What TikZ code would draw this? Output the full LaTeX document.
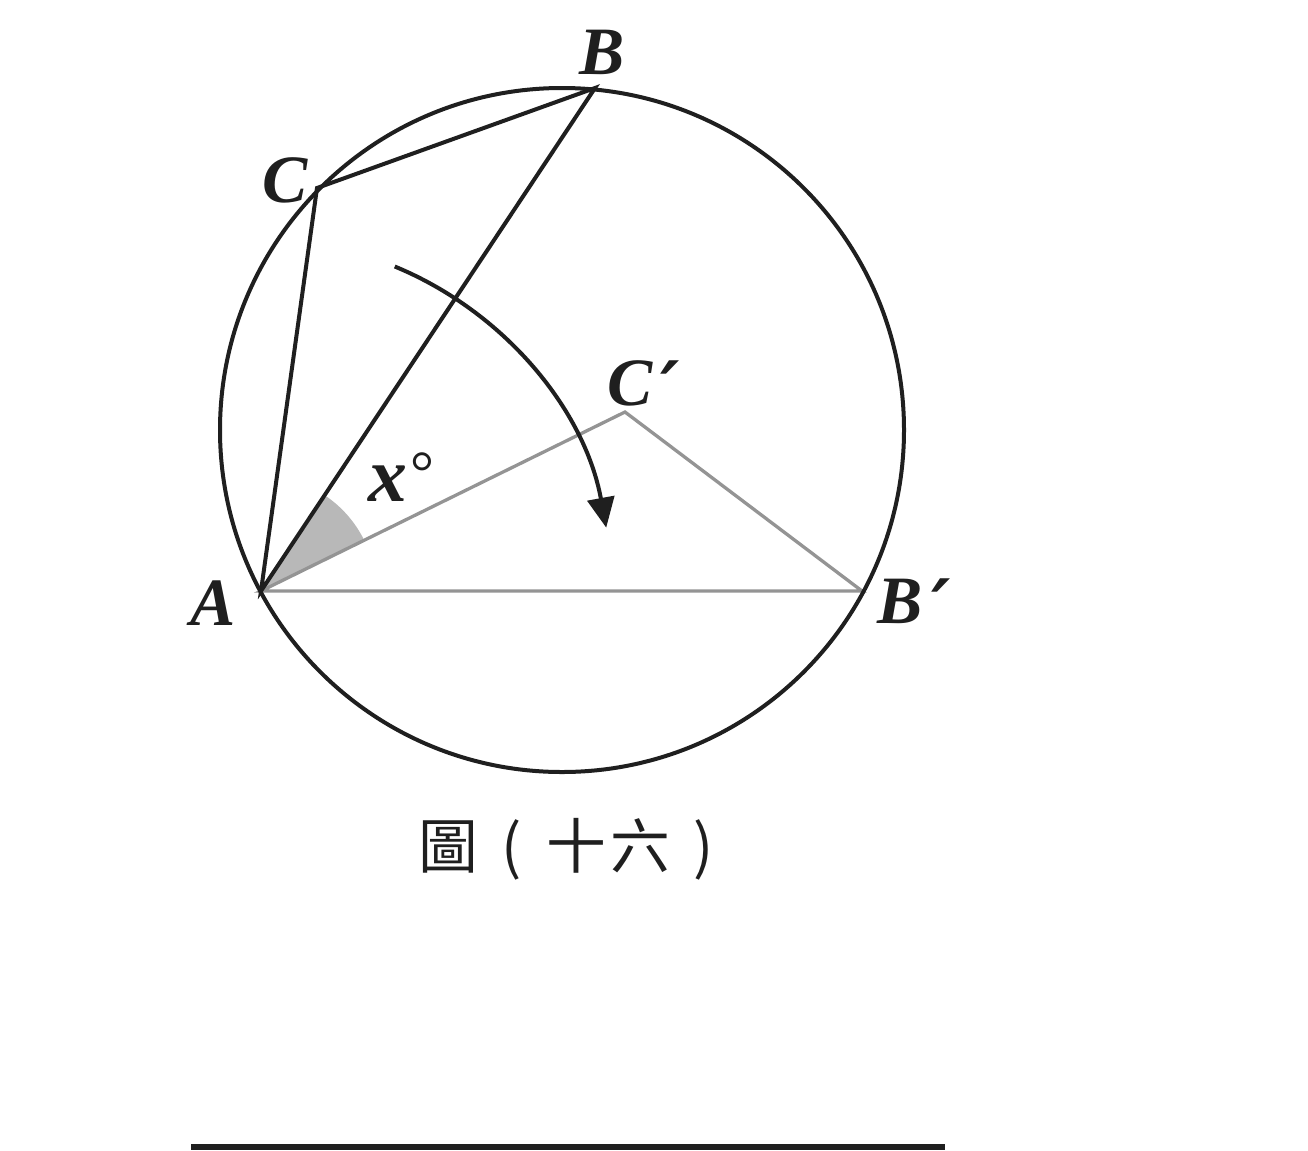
\documentclass[tikz,border=0pt]{standalone}
\usepackage{fontspec}
\setmainfont{Liberation Serif}
\newfontfamily\cjk{Noto Sans CJK TC}
\newfontfamily\dvs{DejaVu Sans}
\usetikzlibrary{arrows.meta,calc}
\tikzset{
  blk/.style={line width=4bp, black!88},
  gry/.style={line width=3.3bp, black!42},
  lbl/.style={inner sep=0pt, font=\fontsize{68}{68}\selectfont\bfseries\itshape, text=black!88},
}
\newcommand{\cbox}[1]{\makebox[64bp]{#1}}
\newcommand{\prm}{\raisebox{-9bp}{\dvs\bfseries\fontsize{74}{74}\selectfont ′}}
\begin{document}
\begin{tikzpicture}[x=1bp,y=-1bp]
\useasboundingbox (0,0) rectangle (1308,1150);
\coordinate (O) at (562,430);
\coordinate (A) at (261,591);
\coordinate (B) at (595,88);
\coordinate (C) at (317,188);
\coordinate (Cp) at (625,412);
\coordinate (Bp) at (862,591);
% angle wedge
\fill[black!28] (A) -- +(-26.2:115) arc[start angle=-26.2, end angle=-56.4, radius=115] -- cycle;
% gray rotated triangle
\draw[gry, line join=miter] (A) -- (Cp) -- (Bp) -- cycle;
% circle
\draw[blk] (O) circle[radius=342];
% original triangle
\draw[blk, line join=miter] (A) -- (C) -- (B) -- cycle;
% rotation arrow
\coordinate (R) at ($(A)+(-67.6:351)$);
\draw[line width=4bp, black!88, -{Triangle[length=30bp,width=27bp]}] (R) arc[start angle=-67.6, end angle=-10.4, radius=351];
% labels
\node[lbl] (lA) at (213,603) {A};
\node[lbl] (lB) at (602,52) {B};
\node[lbl] (lC) at (285,180) {C};
\node[lbl, anchor=base west] (lCp) at (607,405) {C\kern8bp\prm};
\node[lbl, anchor=base west] (lBp) at (877,623) {B\kern9bp\prm};
\node[lbl, anchor=base west] (lx) at (368,501) {\fontsize{78}{78}\selectfont x\kern3bp\raisebox{9bp}{\mdseries\upshape\fontsize{60}{60}\selectfont °}};
% caption
\node[inner sep=0pt, font=\cjk\fontsize{60}{60}\selectfont, text=black!88] (cap) at (576,849) {\cbox{圖}\cbox{(}\cbox{十}\cbox{六}\cbox{)}};
% bottom rule
\fill[black!88] (191,1144) rectangle (945,1150);
\end{tikzpicture}
\end{document}
